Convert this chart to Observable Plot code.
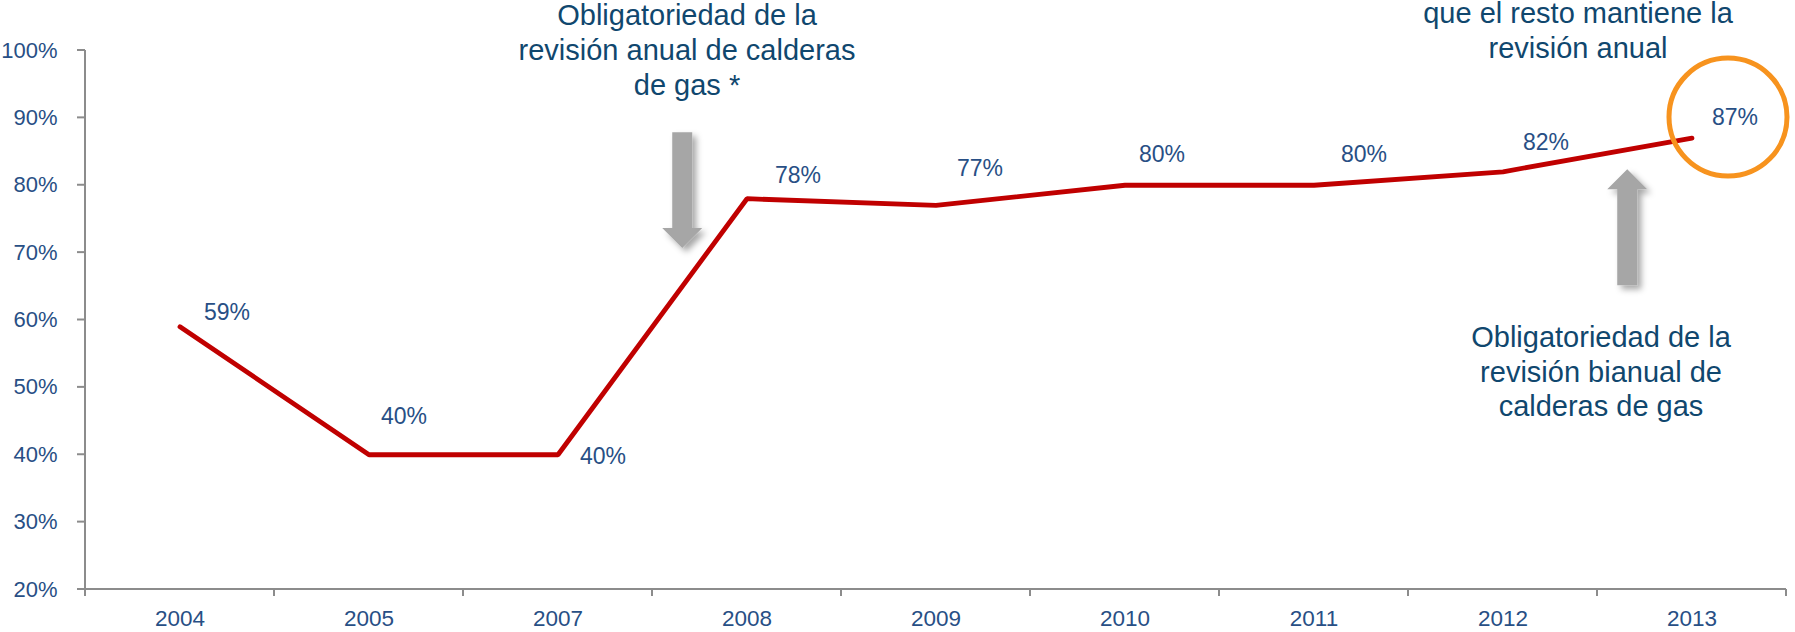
<!DOCTYPE html>
<html>
<head>
<meta charset="utf-8">
<script src="https://cdn.jsdelivr.net/npm/d3@7"></script>
<script src="https://cdn.jsdelivr.net/npm/@observablehq/plot@0.6"></script>
<style>
  html, body { margin: 0; padding: 0; background: #ffffff; }
  #chart { width: 1795px; height: 632px; }
</style>
</head>
<body>
<div id="chart"></div>
<script>
// ---- data ----
const years = ["2004", "2005", "2007", "2008", "2009", "2010", "2011", "2012", "2013"];
const share = [59, 40, 40, 78, 77, 80, 80, 82, 87];
const yTicks = [20, 30, 40, 50, 60, 70, 80, 90, 100];

// ---- annotations ----
const noteAnnual = "Obligatoriedad de la\nrevisión anual de calderas\nde gas *";
const noteRest = "que el resto mantiene la\nrevisión anual";
const noteBiannual = "Obligatoriedad de la\nrevisión bianual de\ncalderas de gas";

// ---- styling / layout ----
const blue = "#284f85";
const noteColor = "#10476e";
const axisGray = "#8c8c8c";
const font = "'Liberation Sans', Arial, sans-serif";
// per-label nudges [dx, dy] (pixels)
const labelNudge = {
  "2004": [24, -7], "2005": [12, -31], "2007": [22, 9], "2008": [28, -16],
  "2009": [21, -29], "2010": [14, -23], "2011": [27, -23], "2012": [20, -22], "2013": [20, -13]
};
// block arrows: placed between two categories (t = fraction), from value y1 to tip y2
const arrows = [
  {from: "2007", to: "2008", t: 0.66, y1: 87.8, y2: 70.6},
  {from: "2012", to: "2013", t: 0.66, y1: 65.1, y2: 82.3}
];

function decorations(index, scales, values, dims) {
  const x = scales.x, y = scales.y;
  const bw = x.bandwidth();
  const g = d3.create("svg:g");
  const defs = g.append("defs");
  const f = defs.append("filter").attr("id", "arrowShadow")
    .attr("x", "-50%").attr("y", "-50%").attr("width", "200%").attr("height", "200%");
  f.append("feDropShadow").attr("dx", 4).attr("dy", 4).attr("stdDeviation", 3)
    .attr("flood-color", "#000").attr("flood-opacity", 0.35);

  const x0 = x(years[0]);
  const x1 = x(years[years.length - 1]) + bw;
  const yb = y(20);
  // axis lines
  g.append("line").attr("x1", x0).attr("x2", x0).attr("y1", y(100)).attr("y2", yb)
    .attr("stroke", axisGray).attr("stroke-width", 2);
  g.append("line").attr("x1", x0 - 8).attr("x2", x1).attr("y1", yb).attr("y2", yb)
    .attr("stroke", axisGray).attr("stroke-width", 2);
  // y ticks
  for (const t of yTicks) {
    g.append("line").attr("x1", x0 - 8).attr("x2", x0).attr("y1", y(t)).attr("y2", y(t))
      .attr("stroke", axisGray).attr("stroke-width", 2);
  }
  // x boundary ticks
  const bounds = years.map((d) => x(d)).concat([x1]);
  for (const b of bounds) {
    g.append("line").attr("x1", b).attr("x2", b).attr("y1", yb).attr("y2", yb + 7)
      .attr("stroke", axisGray).attr("stroke-width", 2);
  }
  // block arrows
  for (const a of arrows) {
    const ca = x(a.from) + bw / 2, cb = x(a.to) + bw / 2;
    const cx = ca + a.t * (cb - ca);
    const ys = y(a.y1), yt = y(a.y2);
    const dir = yt > ys ? 1 : -1;
    const head = 20, hw = 20, sw = 10;
    const yh = yt - dir * head;
    const pts = [
      [cx - sw, ys], [cx + sw, ys], [cx + sw, yh], [cx + hw, yh],
      [cx, yt], [cx - hw, yh], [cx - sw, yh]
    ];
    g.append("path").attr("d", "M" + pts.map((p) => p.join(",")).join("L") + "Z")
      .attr("fill", "#a6a6a6").attr("filter", "url(#arrowShadow)");
  }
  return g.node();
}

const labelMarks = years.map((yr, i) => Plot.text([i], {
  x: (j) => years[j],
  y: (j) => share[j],
  text: (j) => share[j] + "%",
  textAnchor: "start",
  lineAnchor: "bottom",
  dx: labelNudge[yr][0],
  dy: labelNudge[yr][1],
  fill: blue,
  fontSize: 23
}));

const notes = [
  {x: "2008", y: 93.4, dx: -60, t: noteAnnual},
  {x: "2013", y: 98.9, dx: -114, t: noteRest},
  {x: "2013", y: 45.7, dx: -91, t: noteBiannual}
];

const plot = Plot.plot({
  width: 1795,
  height: 632,
  marginLeft: 82,
  marginRight: 6,
  marginTop: 50,
  marginBottom: 43,
  style: {fontFamily: font, fontSize: "22px", background: "#ffffff", overflow: "visible"},
  x: {type: "band", domain: years, padding: 0, axis: null},
  y: {domain: [20, 100], axis: null},
  marks: [
    decorations,
    Plot.axisX({tickSize: 0, tickPadding: 21, fontSize: 22.5, color: blue, label: null}),
    Plot.axisY(yTicks, {tickSize: 0, tickPadding: 25, fontSize: 22, color: blue, label: null,
      tickFormat: (d) => d + "%"}),
    Plot.line(share, {x: years, y: share, stroke: "#c00000", strokeWidth: 4.8,
      strokeLinejoin: "miter", strokeLinecap: "round"}),
    ...labelMarks,
    Plot.dot([0], {x: () => years[years.length - 1], y: () => share[share.length - 1],
      dx: 36, dy: -21, r: 59, stroke: "#f7931e", strokeWidth: 5, fill: "none"}),
    ...notes.map((n) => Plot.text([n], {x: "x", y: "y", text: "t", dx: n.dx,
      textAnchor: "middle", lineAnchor: "bottom", lineHeight: 1.2,
      fontSize: 29, fill: noteColor}))
  ]
});
document.getElementById("chart").appendChild(plot);
</script>
</body>
</html>
